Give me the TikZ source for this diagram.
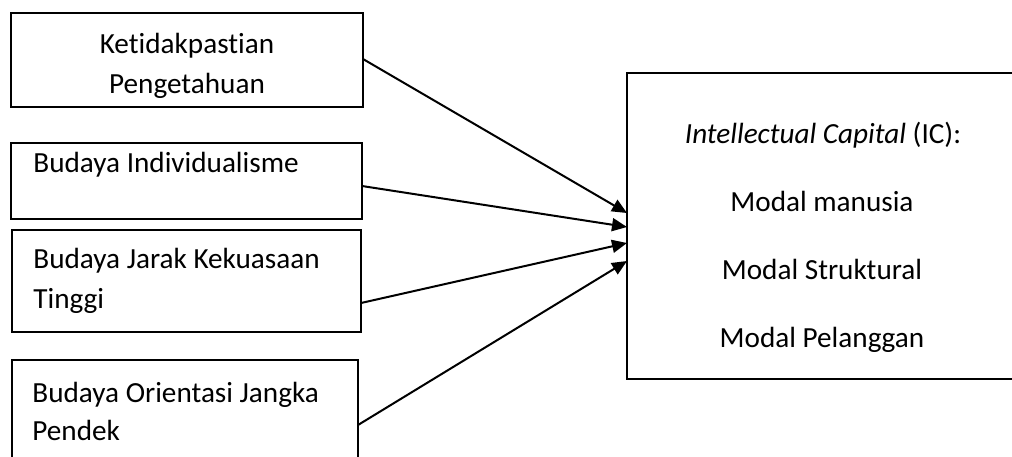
\documentclass[tikz,border=0pt]{standalone}
\usepackage{fontspec}
\setmainfont{Carlito}[Ligatures=NoCommon]
\usetikzlibrary{arrows.meta}
\begin{document}
\begin{tikzpicture}[x=0.5pt,y=-0.5pt,
  box/.style={draw=black, line width=1pt, anchor=north west, inner sep=0pt, outer sep=0pt},
  lbl/.style={font=\fontsize{14.6}{17}\selectfont, inner sep=0pt},
  conn/.style={line width=1pt, -{Triangle[length=7.5pt,width=6.5pt]}}]
\useasboundingbox (0,0) rectangle (1012,456);
% left boxes
\node[box, minimum width=176pt, minimum height=47pt] (b1) at (11,13) {};
\node[box, minimum width=175.5pt, minimum height=38pt] (b2) at (11,143) {};
\node[box, minimum width=174.5pt, minimum height=51pt] (b3) at (12,230) {};
\node[box, minimum width=173pt, minimum height=55pt] (b4) at (12,360) {};
% right box
\node[box, minimum width=195pt, minimum height=153pt] (ic) at (627,73) {};
% texts
\node[lbl, anchor=base] (t1a) at (187,53) {Ketidakpastian};
\node[lbl, anchor=base] (t1b) at (187,93) {Pengetahuan};
\node[lbl, anchor=base west] (t2) at (33,172) {Budaya Individualisme};
\node[lbl, anchor=base west] (t3a) at (33,268) {Budaya Jarak Kekuasaan};
\node[lbl, anchor=base west] (t3b) at (33,308) {Tinggi};
\node[lbl, anchor=base west] (t4a) at (32,402) {Budaya Orientasi Jangka};
\node[lbl, anchor=base west] (t4b) at (32,440) {Pendek};
\node[lbl, anchor=base] (r1) at (823,143) {\textit{Intellectual Capital} (IC):};
\node[lbl, anchor=base] (r2) at (822,211) {Modal manusia};
\node[lbl, anchor=base] (r3) at (822,279) {Modal Struktural};
\node[lbl, anchor=base] (r4) at (822,347) {Modal Pelanggan};
% connectors
\draw[conn] ([yshift=0.5pt]b1.east) -- ([yshift=6.5pt]ic.west);
\draw[conn] ([yshift=-2.5pt]b2.east) -- ([yshift=-0.5pt]ic.west);
\draw[conn] ([yshift=-11pt]b3.east) -- ([yshift=-8.5pt]ic.west);
\draw[conn] ([yshift=-5pt]b4.east) -- ([yshift=-17.5pt]ic.west);
\end{tikzpicture}
\end{document}
